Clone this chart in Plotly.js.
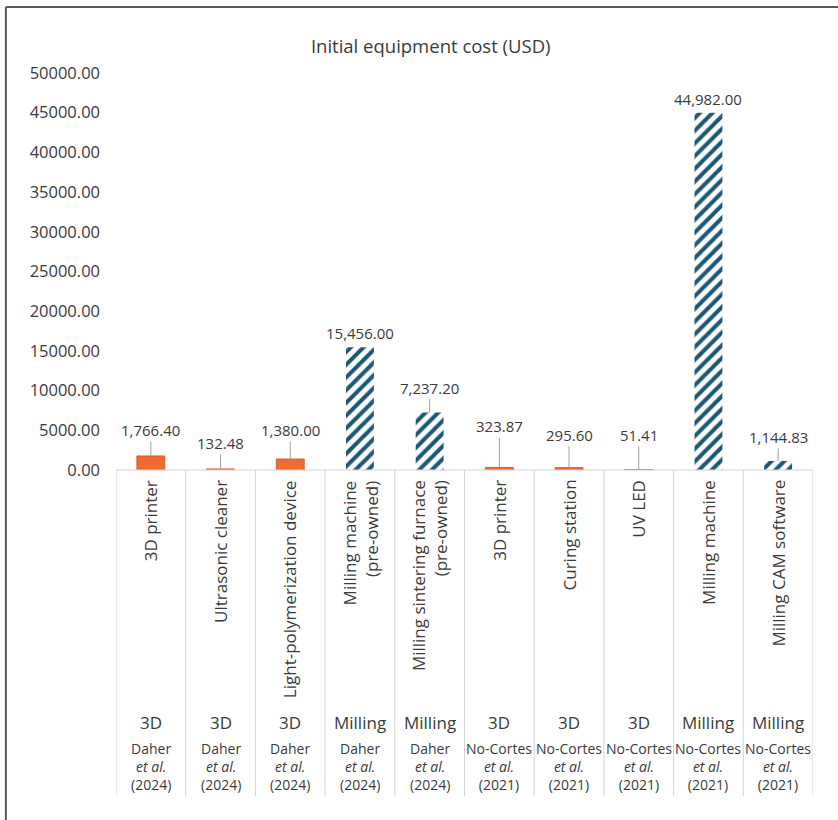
<!DOCTYPE html>
<html>
<head>
<meta charset="utf-8">
<script src="https://cdn.plot.ly/plotly-3.0.1.min.js"></script>
<style>
  html, body { margin: 0; padding: 0; background: #ffffff; }
  #chart { width: 838px; height: 820px; }
</style>
</head>
<body>
<div id="chart"></div>
<script>
// ---- data ----
const equipment = [
  "3D printer",
  "Ultrasonic cleaner",
  "Light-polymerization device",
  "Milling machine<br>(pre-owned)",
  "Milling sintering furnace<br>(pre-owned)",
  "3D printer",
  "Curing station",
  "UV LED",
  "Milling machine",
  "Milling CAM software"
];
const workflow = ["3D", "3D", "3D", "Milling", "Milling", "3D", "3D", "3D", "Milling", "Milling"];
const studyAuthor = ["Daher", "Daher", "Daher", "Daher", "Daher", "No-Cortes", "No-Cortes", "No-Cortes", "No-Cortes", "No-Cortes"];
const studyYear = ["2024", "2024", "2024", "2024", "2024", "2021", "2021", "2021", "2021", "2021"];
const costUSD = [1766.40, 132.48, 1380.00, 15456.00, 7237.20, 323.87, 295.60, 51.41, 44982.00, 1144.83];
const yTicks = [0, 5000, 10000, 15000, 20000, 25000, 30000, 35000, 40000, 45000, 50000];

// ---- presentation ----
const labelDy = [-26, -26, -29, -15, -25, -41, -33, -35, -13, -24]; // pixel offsets of value labels
const FONT = "Open Sans, Noto Sans, sans-serif";
const TXT = "#3b3b3b";
const ORANGE = "#ef6b31";
const NAVY = "#1b5878";
const GRID = "#d4d4d4";

const idx = costUSD.map((_, i) => i);
const fmt = v => v.toLocaleString("en-US", {minimumFractionDigits: 2, maximumFractionDigits: 2});

const traces = [
  {
    type: "bar",
    x: idx,
    y: costUSD.map((v, i) => workflow[i] === "3D" ? v : null),
    width: 0.4,
    marker: {color: ORANGE, line: {color: "#dc5a27", width: 1}},
    hoverinfo: "y",
    showlegend: false
  },
  {
    type: "bar",
    x: idx,
    y: costUSD.map((v, i) => workflow[i] === "Milling" ? v : null),
    width: 0.4,
    marker: {
      color: "#ffffff",
      line: {width: 0},
      pattern: {shape: "/", fgcolor: NAVY, bgcolor: "#ffffff", size: 9, solidity: 0.45, fillmode: "replace"}
    },
    hoverinfo: "y",
    showlegend: false
  }
];

const annotations = [];
const shapes = [];

idx.forEach(i => {
  const big = labelDy[i] > -18;
  annotations.push({
    x: i, y: costUSD[i], xref: "x", yref: "y",
    text: fmt(costUSD[i]),
    showarrow: !big,
    arrowhead: 0, arrowwidth: 1, arrowcolor: "#a0a0a0", standoff: 0,
    ax: 0, ay: labelDy[i],
    yanchor: big ? "bottom" : "middle",
    yshift: big ? 2 : 0,
    font: {family: FONT, size: 15, color: TXT}
  });
  annotations.push({
    x: i, y: -0.02, xref: "x", yref: "paper",
    text: equipment[i], textangle: -90,
    xanchor: "center", yanchor: "top", align: "right",
    showarrow: false,
    font: {family: FONT, size: 17, color: TXT}
  });
  annotations.push({
    x: i, y: -0.637, xref: "x", yref: "paper",
    text: workflow[i], showarrow: false,
    xanchor: "center", yanchor: "middle",
    font: {family: FONT, size: 17, color: TXT}
  });
  annotations.push({
    x: i, y: -0.748, xref: "x", yref: "paper",
    text: studyAuthor[i] + "<br><i>et al.</i><br>(" + studyYear[i] + ")",
    showarrow: false, xanchor: "center", yanchor: "middle",
    font: {family: FONT, size: 14, color: TXT}
  });
});

for (let k = 0; k <= costUSD.length; k++) {
  shapes.push({type: "line", xref: "x", yref: "paper", x0: k - 0.5, x1: k - 0.5, y0: 0, y1: -0.821,
    line: {color: GRID, width: 1}});
}
shapes.push({type: "line", xref: "x", yref: "paper", x0: -0.5, x1: costUSD.length - 0.5, y0: 0, y1: 0,
  line: {color: GRID, width: 1}});
// outer frame (top and left)
shapes.push({type: "line", xref: "paper", yref: "paper", x0: -0.158, x1: 1.04, y0: 1.166, y1: 1.166,
  line: {color: "#5a5a5a", width: 2}});
shapes.push({type: "line", xref: "paper", yref: "paper", x0: -0.158, x1: -0.158, y0: 1.166, y1: -0.9,
  line: {color: "#5a5a5a", width: 2}});

const layout = {
  width: 838, height: 820,
  margin: {l: 116, r: 25, t: 73, b: 350},
  paper_bgcolor: "#ffffff", plot_bgcolor: "#ffffff",
  title: {
    text: "Initial equipment cost (USD)",
    font: {family: FONT, size: 18.5, color: TXT},
    xref: "container", x: 0.514, xanchor: "center",
    yref: "container", y: 1 - 47 / 820, yanchor: "middle"
  },
  barmode: "overlay",
  xaxis: {
    range: [-0.5, costUSD.length - 0.5],
    showticklabels: false, showgrid: false, zeroline: false, showline: false, ticks: "",
    fixedrange: true
  },
  yaxis: {
    range: [0, 50000],
    tickvals: yTicks, tickformat: ".2f",
    showgrid: false, zeroline: false, showline: false, ticks: "",
    ticklabelstandoff: 15,
    tickfont: {family: FONT, size: 16.5, color: TXT},
    fixedrange: true
  },
  annotations: annotations,
  shapes: shapes,
  font: {family: FONT, color: TXT}
};

Plotly.newPlot("chart", traces, layout, {displayModeBar: false, staticPlot: true});
</script>
</body>
</html>
